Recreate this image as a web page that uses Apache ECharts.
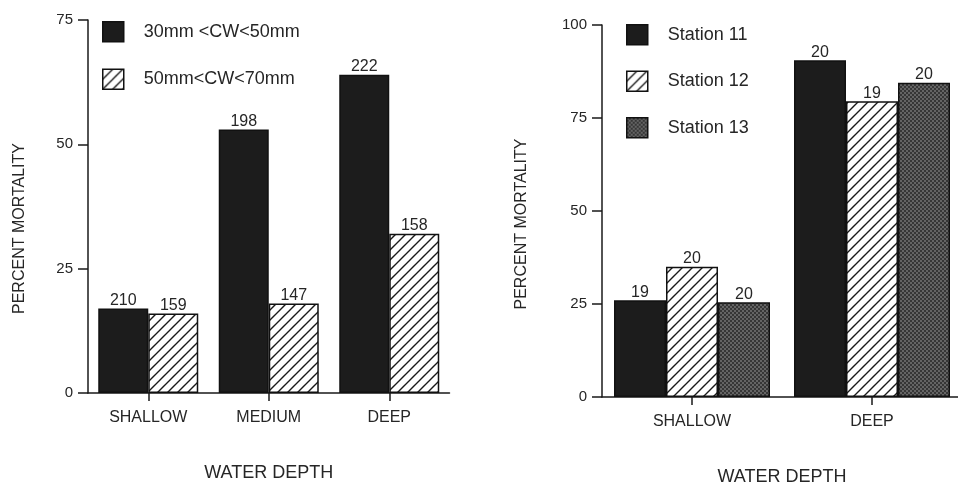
<!DOCTYPE html>
<html>
<head>
<meta charset="utf-8">
<script src="https://cdn.jsdelivr.net/npm/echarts@6/dist/echarts.min.js"></script>
<style>
html,body{margin:0;padding:0;background:#fff;}
#chart{width:958px;height:483px;}
</style>
</head>
<body>
<div id="chart"></div>
<script>
// ---- Data ----
const leftCategories = ['SHALLOW', 'MEDIUM', 'DEEP'];
const leftNames = ['30mm <CW<50mm', '50mm<CW<70mm'];
const smallCW = [17, 53, 64];
const largeCW = [16, 18, 32];
const smallCWn = [210, 198, 222];
const largeCWn = [159, 147, 158];
const leftTicks = [0, 25, 50, 75];

const rightCategories = ['SHALLOW', 'DEEP'];
const rightNames = ['Station 11', 'Station 12', 'Station 13'];
const station11 = [26, 90.5];
const station12 = [35, 79.5];
const station13 = [25.5, 84.5];
const station11n = [19, 20];
const station12n = [20, 19];
const station13n = [20, 20];
const rightTicks = [0, 25, 50, 75, 100];

const yTitle = 'PERCENT MORTALITY';
const xTitle = 'WATER DEPTH';

// ---- Patterns ----
function hatchPattern() {
  const c = document.createElement('canvas');
  c.width = 10; c.height = 10;
  const g = c.getContext('2d');
  g.fillStyle = '#ffffff';
  g.fillRect(0, 0, 10, 10);
  g.strokeStyle = '#1a1a1a';
  g.lineWidth = 1.4;
  g.beginPath();
  g.moveTo(-2, 12); g.lineTo(12, -2);
  g.moveTo(-2, 2); g.lineTo(2, -2);
  g.moveTo(8, 12); g.lineTo(12, 8);
  g.stroke();
  return c;
}
function dotPattern() {
  const c = document.createElement('canvas');
  c.width = 4; c.height = 4;
  const g = c.getContext('2d');
  g.fillStyle = '#363636';
  g.fillRect(0, 0, 4, 4);
  g.fillStyle = '#646464';
  g.fillRect(0, 0, 2, 2);
  g.fillRect(2, 2, 2, 2);
  return c;
}
const HATCH = { image: hatchPattern(), repeat: 'repeat' };
const DOTS = { image: dotPattern(), repeat: 'repeat' };
const DARK = '#1c1c1c';

const FONT = 'Liberation Sans, Arial, Helvetica, sans-serif';
const TXT = '#262626';

function labelFrom(arr) {
  return {
    show: true, position: 'top', distance: 0,
    color: TXT, fontFamily: FONT, fontSize: 16,
    formatter: p => String(arr[p.dataIndex])
  };
}
function bar(name, data, nArr, color, xi, width) {
  return {
    type: 'bar', name: name, data: data,
    xAxisIndex: xi, yAxisIndex: xi,
    barWidth: width, barGap: '0%',
    itemStyle: { color: color, borderColor: '#111', borderWidth: 1.5 },
    label: labelFrom(nArr),
    emphasis: { disabled: true },
    animation: false
  };
}
function xAx(cats, gi, gap) {
  return {
    type: 'category', gridIndex: gi, data: cats,
    axisLine: { show: true, lineStyle: { color: '#1a1a1a', width: 1.5 } },
    axisTick: { show: true, alignWithLabel: true, length: 8, lineStyle: { color: '#1a1a1a', width: 1.5 } },
    axisLabel: { color: TXT, fontFamily: FONT, fontSize: 16, margin: 17 },
    name: xTitle, nameLocation: 'middle', nameGap: gap,
    nameTextStyle: { color: TXT, fontFamily: FONT, fontSize: 18 }
  };
}
function yAx(ticks, gi, gap, shift) {
  return {
    type: 'value', gridIndex: gi,
    min: ticks[0], max: ticks[ticks.length - 1], interval: ticks[1] - ticks[0],
    axisLine: { show: true, lineStyle: { color: '#1a1a1a', width: 1.5 } },
    axisTick: { show: true, length: 10, lineStyle: { color: '#1a1a1a', width: 1.5 } },
    axisLabel: { color: TXT, fontFamily: FONT, fontSize: 15, margin: 15 },
    splitLine: { show: false },
    name: yTitle, nameLocation: 'middle', nameGap: gap,
    nameTextStyle: { color: TXT, fontFamily: FONT, fontSize: 16, padding: [0, shift, 0, 0] }
  };
}
function legend(names, left, top, gap) {
  return {
    data: names, orient: 'vertical', left: left, top: top,
    padding: 0,
    itemWidth: 21, itemHeight: 20, itemGap: gap,
    icon: 'rect', selectedMode: false,
    textStyle: { color: TXT, fontFamily: FONT, fontSize: 18, lineHeight: 20, padding: [0, 0, 0, 15] },
    itemStyle: { borderColor: '#111', borderWidth: 1.5 }
  };
}

const chart = echarts.init(document.getElementById('chart'), null, { renderer: 'canvas' });
chart.setOption({
  backgroundColor: '#ffffff',
  animation: false,
  grid: [
    { left: 88, top: 20, width: 361.5, height: 373, containLabel: false, outerBoundsMode: 'none' },
    { left: 602, top: 25, width: 360, height: 372, containLabel: false, outerBoundsMode: 'none' }
  ],
  legend: [
    legend(leftNames, 102, 21, 26),
    legend(rightNames, 626, 24, 25)
  ],
  xAxis: [xAx(leftCategories, 0, 71), xAx(rightCategories, 1, 71)],
  yAxis: [yAx(leftTicks, 0, 60, 44), yAx(rightTicks, 1, 72, 26)],
  series: [
    bar(leftNames[0], smallCW, smallCWn, DARK, 0, 50),
    bar(leftNames[1], largeCW, largeCWn, HATCH, 0, 50),
    bar(rightNames[0], station11, station11n, DARK, 1, 52),
    bar(rightNames[1], station12, station12n, HATCH, 1, 52),
    bar(rightNames[2], station13, station13n, DOTS, 1, 52)
  ]
});
</script>
</body>
</html>
